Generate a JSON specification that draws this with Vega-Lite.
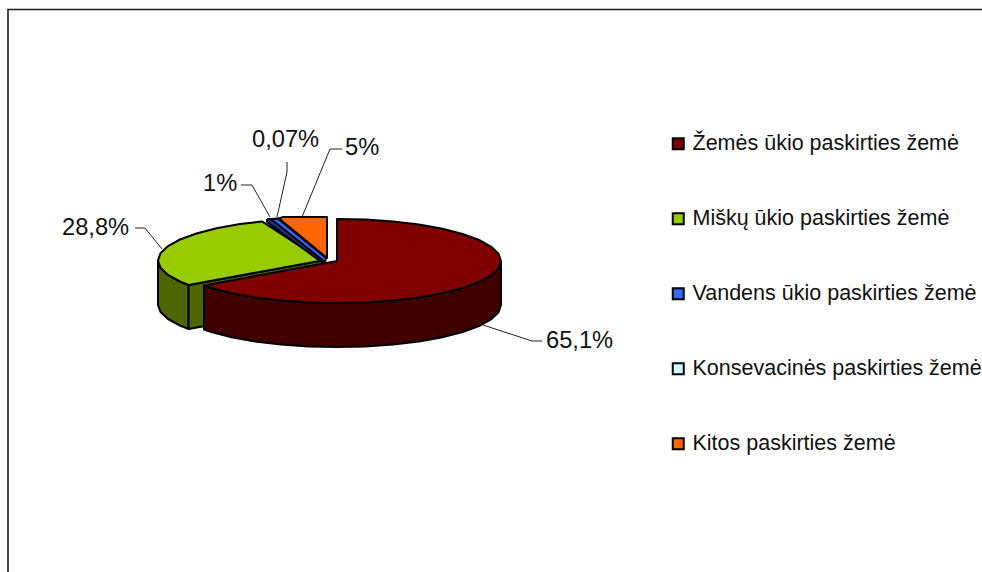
{"$schema":"https://vega.github.io/schema/vega-lite/v6.json","width":982,"height":572,"padding":0,"autosize":{"type":"none"},"background":"white","config":{"view":{"stroke":null},"text":{"font":"Liberation Sans"}},
"layer":[
{"data":{"values":[
{"p":"g1","i":0,"x":188.6,"y":285},{"p":"g1","i":1,"x":180,"y":281.5},{"p":"g1","i":2,"x":168,"y":274.9},{"p":"g1","i":3,"x":160.5,"y":267.8},{"p":"g1","i":4,"x":158,"y":260.5},{"p":"g1","i":5,"x":158,"y":305},{"p":"g1","i":6,"x":160.5,"y":312},{"p":"g1","i":7,"x":168,"y":319},{"p":"g1","i":8,"x":180,"y":325.5},{"p":"g1","i":9,"x":188.6,"y":329},{"p":"g1","i":10,"x":188.6,"y":285},
{"p":"g2","i":0,"x":188.6,"y":285},{"p":"g2","i":1,"x":322,"y":260.5},{"p":"g2","i":2,"x":322,"y":304.5},{"p":"g2","i":3,"x":188.6,"y":329},{"p":"g2","i":4,"x":188.6,"y":285},
{"p":"Miškų ūkio paskirties žemė","i":0,"x":322,"y":260.5},{"p":"Miškų ūkio paskirties žemė","i":1,"x":188.6,"y":285},{"p":"Miškų ūkio paskirties žemė","i":2,"x":180,"y":281.5},{"p":"Miškų ūkio paskirties žemė","i":3,"x":168,"y":274.9},{"p":"Miškų ūkio paskirties žemė","i":4,"x":160.5,"y":267.8},{"p":"Miškų ūkio paskirties žemė","i":5,"x":158,"y":260.5},{"p":"Miškų ūkio paskirties žemė","i":6,"x":160.5,"y":253.2},{"p":"Miškų ūkio paskirties žemė","i":7,"x":168,"y":246.1},{"p":"Miškų ūkio paskirties žemė","i":8,"x":180,"y":239.5},{"p":"Miškų ūkio paskirties žemė","i":9,"x":196.4,"y":233.5},{"p":"Miškų ūkio paskirties žemė","i":10,"x":216.6,"y":228.3},{"p":"Miškų ūkio paskirties žemė","i":11,"x":240,"y":224.1},{"p":"Miškų ūkio paskirties žemė","i":12,"x":262,"y":221.4},{"p":"Miškų ūkio paskirties žemė","i":13,"x":322,"y":260.5},
{"p":"b1","i":0,"x":267,"y":219},{"p":"b1","i":1,"x":272,"y":219},{"p":"b1","i":2,"x":325,"y":262},{"p":"b1","i":3,"x":320,"y":261},{"p":"b1","i":4,"x":267,"y":222},{"p":"b1","i":5,"x":267,"y":219},
{"p":"Vandens ūkio paskirties žemė","i":0,"x":271,"y":219},{"p":"Vandens ūkio paskirties žemė","i":1,"x":278,"y":218.5},{"p":"Vandens ūkio paskirties žemė","i":2,"x":326,"y":258},{"p":"Vandens ūkio paskirties žemė","i":3,"x":325,"y":262},{"p":"Vandens ūkio paskirties žemė","i":4,"x":271,"y":219},
{"p":"Konsevacinės paskirties žemė","i":0,"x":278,"y":218.5},{"p":"Konsevacinės paskirties žemė","i":1,"x":279,"y":218.5},{"p":"Konsevacinės paskirties žemė","i":2,"x":327,"y":258},{"p":"Konsevacinės paskirties žemė","i":3,"x":278,"y":218.5},
{"p":"Kitos paskirties žemė","i":0,"x":327,"y":258},{"p":"Kitos paskirties žemė","i":1,"x":279,"y":218.5},{"p":"Kitos paskirties žemė","i":2,"x":283,"y":217},{"p":"Kitos paskirties žemė","i":3,"x":327,"y":217},{"p":"Kitos paskirties žemė","i":4,"x":327,"y":258},
{"p":"r1","i":0,"x":501,"y":261},{"p":"r1","i":1,"x":498.5,"y":268.3},{"p":"r1","i":2,"x":491,"y":275.4},{"p":"r1","i":3,"x":479,"y":282},{"p":"r1","i":4,"x":462.6,"y":288},{"p":"r1","i":5,"x":442.4,"y":293.2},{"p":"r1","i":6,"x":419,"y":297.4},{"p":"r1","i":7,"x":393,"y":300.5},{"p":"r1","i":8,"x":365.5,"y":302.4},{"p":"r1","i":9,"x":337,"y":303},{"p":"r1","i":10,"x":308.5,"y":302.4},{"p":"r1","i":11,"x":281,"y":300.5},{"p":"r1","i":12,"x":255,"y":297.4},{"p":"r1","i":13,"x":231.6,"y":293.2},{"p":"r1","i":14,"x":211.4,"y":288},{"p":"r1","i":15,"x":204,"y":285.5},{"p":"r1","i":16,"x":204,"y":329.5},{"p":"r1","i":17,"x":211.4,"y":332},{"p":"r1","i":18,"x":231.6,"y":337.2},{"p":"r1","i":19,"x":255,"y":341.4},{"p":"r1","i":20,"x":281,"y":344.5},{"p":"r1","i":21,"x":308.5,"y":346.4},{"p":"r1","i":22,"x":337,"y":347},{"p":"r1","i":23,"x":365.5,"y":346.4},{"p":"r1","i":24,"x":393,"y":344.5},{"p":"r1","i":25,"x":419,"y":341.4},{"p":"r1","i":26,"x":442.4,"y":337.2},{"p":"r1","i":27,"x":462.6,"y":332},{"p":"r1","i":28,"x":479,"y":326},{"p":"r1","i":29,"x":491,"y":319.4},{"p":"r1","i":30,"x":498.5,"y":312.3},{"p":"r1","i":31,"x":501,"y":305},{"p":"r1","i":32,"x":501,"y":261},
{"p":"Žemės ūkio paskirties žemė","i":0,"x":337,"y":261},{"p":"Žemės ūkio paskirties žemė","i":1,"x":337,"y":219},{"p":"Žemės ūkio paskirties žemė","i":2,"x":365.5,"y":219.6},{"p":"Žemės ūkio paskirties žemė","i":3,"x":393,"y":221.5},{"p":"Žemės ūkio paskirties žemė","i":4,"x":419,"y":224.6},{"p":"Žemės ūkio paskirties žemė","i":5,"x":442.4,"y":228.8},{"p":"Žemės ūkio paskirties žemė","i":6,"x":462.6,"y":234},{"p":"Žemės ūkio paskirties žemė","i":7,"x":479,"y":240},{"p":"Žemės ūkio paskirties žemė","i":8,"x":491,"y":246.6},{"p":"Žemės ūkio paskirties žemė","i":9,"x":498.5,"y":253.7},{"p":"Žemės ūkio paskirties žemė","i":10,"x":501,"y":261},{"p":"Žemės ūkio paskirties žemė","i":11,"x":498.5,"y":268.3},{"p":"Žemės ūkio paskirties žemė","i":12,"x":491,"y":275.4},{"p":"Žemės ūkio paskirties žemė","i":13,"x":479,"y":282},{"p":"Žemės ūkio paskirties žemė","i":14,"x":462.6,"y":288},{"p":"Žemės ūkio paskirties žemė","i":15,"x":442.4,"y":293.2},{"p":"Žemės ūkio paskirties žemė","i":16,"x":419,"y":297.4},{"p":"Žemės ūkio paskirties žemė","i":17,"x":393,"y":300.5},{"p":"Žemės ūkio paskirties žemė","i":18,"x":365.5,"y":302.4},{"p":"Žemės ūkio paskirties žemė","i":19,"x":337,"y":303},{"p":"Žemės ūkio paskirties žemė","i":20,"x":308.5,"y":302.4},{"p":"Žemės ūkio paskirties žemė","i":21,"x":281,"y":300.5},{"p":"Žemės ūkio paskirties žemė","i":22,"x":255,"y":297.4},{"p":"Žemės ūkio paskirties žemė","i":23,"x":231.6,"y":293.2},{"p":"Žemės ūkio paskirties žemė","i":24,"x":211.4,"y":288},{"p":"Žemės ūkio paskirties žemė","i":25,"x":204,"y":285.5},{"p":"Žemės ūkio paskirties žemė","i":26,"x":337,"y":261}
]},
"mark":{"type":"line","stroke":"black","strokeWidth":2,"strokeJoin":"round","clip":false,"interpolate":"linear"},
"encoding":{"x":{"field":"x","type":"quantitative","scale":{"domain":[0,982],"nice":false,"zero":false},"axis":null},"y":{"field":"y","type":"quantitative","scale":{"domain":[572,0],"nice":false,"zero":false},"axis":null},"order":{"field":"i"},
"fill":{"field":"p","type":"nominal","sort":null,"scale":{"domain":["Žemės ūkio paskirties žemė","Miškų ūkio paskirties žemė","Vandens ūkio paskirties žemė","Konsevacinės paskirties žemė","Kitos paskirties žemė","g1","g2","b1","r1"],"range":["#800000","#99cc00","#3366ff","#ccffff","#ff6600","#4d6600","#4d6600","#1a3380","#400000"]},
"legend":{"values":["Žemės ūkio paskirties žemė","Miškų ūkio paskirties žemė","Vandens ūkio paskirties žemė","Konsevacinės paskirties žemė","Kitos paskirties žemė"],"title":null,"orient":"none","legendX":667.5,"legendY":133,"symbolType":"square","symbolSize":121,"symbolStrokeColor":"black","symbolStrokeWidth":2,"symbolOpacity":1,"labelFont":"Liberation Sans","labelFontSize":21.5,"labelColor":"#111111","labelLimit":400,"rowPadding":52,"labelOffset":3.5}}}},
{"data":{"values":[
{"l":"a","i":0,"x":483,"y":325},{"l":"a","i":1,"x":532,"y":341},{"l":"a","i":2,"x":542,"y":341},
{"l":"b","i":0,"x":162,"y":249},{"l":"b","i":1,"x":145,"y":228},{"l":"b","i":2,"x":135,"y":228},
{"l":"c","i":0,"x":270,"y":217},{"l":"c","i":1,"x":252,"y":185},{"l":"c","i":2,"x":241,"y":185},
{"l":"d","i":0,"x":277,"y":217},{"l":"d","i":1,"x":287,"y":172},{"l":"d","i":2,"x":287,"y":162},
{"l":"e","i":0,"x":302,"y":217},{"l":"e","i":1,"x":330,"y":149},{"l":"e","i":2,"x":342,"y":149}
]},
"mark":{"type":"line","color":"#222222","strokeWidth":1,"clip":false},
"encoding":{"x":{"field":"x","type":"quantitative"},"y":{"field":"y","type":"quantitative"},"detail":{"field":"l"},"order":{"field":"i"}}},
{"data":{"values":[{"i":0,"x":8,"y":572},{"i":1,"x":8,"y":9.5},{"i":2,"x":982,"y":9.5}]},
"mark":{"type":"line","color":"#1a1a1a","strokeWidth":1.6,"clip":false},
"encoding":{"x":{"field":"x","type":"quantitative"},"y":{"field":"y","type":"quantitative"},"order":{"field":"i"}}},
{"data":{"values":[{"t":"65,1%","x":546,"y":340.5},{"t":"28,8%","x":62,"y":227.5},{"t":"1%","x":203,"y":183.5},{"t":"0,07%","x":252,"y":139.5},{"t":"5%","x":345,"y":147.5}]},
"mark":{"type":"text","align":"left","baseline":"middle","fontSize":23.7,"font":"Liberation Sans","color":"#111111"},
"encoding":{"x":{"field":"x","type":"quantitative"},"y":{"field":"y","type":"quantitative"},"text":{"field":"t"}}}
]}
